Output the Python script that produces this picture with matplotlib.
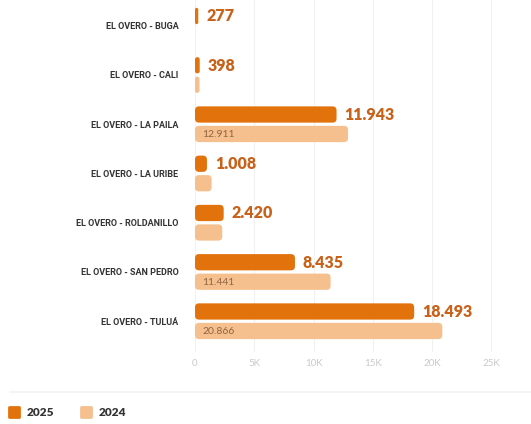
import matplotlib
matplotlib.use("Agg")
import matplotlib.pyplot as plt
from matplotlib.patches import FancyBboxPatch
from matplotlib.lines import Line2D
from matplotlib.markers import MarkerStyle

routes = ["EL OVERO - BUGA", "EL OVERO - CALI", "EL OVERO - LA PAILA",
          "EL OVERO - LA URIBE", "EL OVERO - ROLDANILLO", "EL OVERO - SAN PEDRO",
          "EL OVERO - TULUÁ"]
v2025 = [277, 398, 11943, 1008, 2420, 8435, 18493]
v2024 = [0, 380, 12911, 1400, 2300, 11441, 20866]
labels_2025 = ["277", "398", "11.943", "1.008", "2.420", "8.435", "18.493"]
labels_2024 = ["", "", "12.911", "", "", "11.441", "20.866"]
ticks = [0, 5000, 10000, 15000, 20000, 25000]
tick_labels = ["0", "5K", "10K", "15K", "20K", "25K"]

C25 = "#e2720c"
C24 = "#f5c08e"
VAL = "#c8621a"

W, H = 531, 424
fig = plt.figure(figsize=(W / 100, H / 100), dpi=100)
ax = fig.add_axes([195 / W, 1 - 352 / H, 1 - 195 / W, 352 / H])

xmax = 28350
ax.set_xlim(0, xmax)
ax.set_ylim(6.625, -0.523)

# pixel sizes in data units, used to keep the bar corners round
px_x = xmax / (W - 195)
px_y = (6.625 + 0.523) / 352
bar_h = 0.33
off = 0.198


def rbar(y, w, color):
    if w <= 0:
        return
    r = min(4 * px_x, w / 2)
    p = FancyBboxPatch((0, y - bar_h / 2), w, bar_h,
                       boxstyle=f"round,pad=0,rounding_size={r}",
                       mutation_aspect=px_y / px_x,
                       fc=color, ec="none", zorder=3)
    ax.add_patch(p)


for i in range(len(routes)):
    rbar(i - off, v2025[i], C25)
    rbar(i + off, v2024[i], C24)
    ax.text(v2025[i] + 8 * px_x, i - off + 0.01, labels_2025[i],
            ha="left", va="center", fontsize=11.5, fontweight="heavy",
            color=VAL, family=["Lato", "DejaVu Sans"], zorder=4)
    if labels_2024[i]:
        ax.text(7 * px_x, i + off + 0.01, labels_2024[i], ha="left", va="center",
                fontsize=7.5, color="#8f6442", family=["Lato", "DejaVu Sans"],
                zorder=4)

ax.set_yticks(range(len(routes)))
ax.set_yticklabels(routes, fontsize=6.5, fontweight="bold", color="#333333",
                   family=["Liberation Sans Narrow", "Roboto", "DejaVu Sans"])
ax.tick_params(axis="y", length=0, pad=12)
ax.set_xticks(ticks)
ax.set_xticklabels(tick_labels, fontsize=7, color="#c9c9c9",
                   family=["Lato", "DejaVu Sans"])
ax.tick_params(axis="x", length=0, pad=5)

ax.grid(axis="x", color="#f1f1f1", linewidth=0.8, zorder=0)
for s in ax.spines.values():
    s.set_visible(False)

# separator above the legend
fig.add_artist(Line2D([10 / W, 1], [1 - 392 / H, 1 - 392 / H],
                      transform=fig.transFigure, color="#f2f2f2", lw=1.2))

handles = [Line2D([], [], ls="none", marker=MarkerStyle("s", joinstyle="round"),
                  markersize=7, mfc=c, mec=c, mew=2)
           for c in (C25, C24)]
fig.legend(handles, ["2025", "2024"], loc="center left",
           bbox_to_anchor=(-3 / W, 1 - 413 / H), ncol=2, frameon=False,
           handlelength=1.0, handletextpad=0.6, columnspacing=2.2,
           prop={"family": ["Lato", "DejaVu Sans"], "weight": "heavy", "size": 8.5},
           labelcolor="#333333")

fig.savefig("out.png", dpi=100)
